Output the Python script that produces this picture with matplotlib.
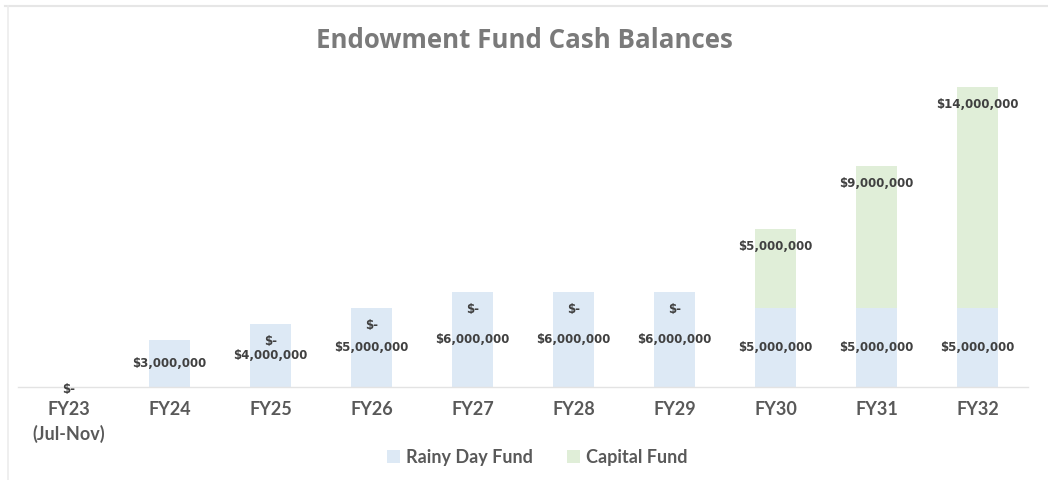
import matplotlib
matplotlib.use("Agg")
import matplotlib.pyplot as plt
from matplotlib.lines import Line2D
from matplotlib.patches import Patch
import numpy as np

categories = ["FY23\n(Jul-Nov)", "FY24", "FY25", "FY26", "FY27", "FY28", "FY29", "FY30", "FY31", "FY32"]
rainy_day = [0, 3000000, 4000000, 5000000, 6000000, 6000000, 6000000, 5000000, 5000000, 5000000]
capital = [0, 0, 0, 0, 0, 0, 0, 5000000, 9000000, 14000000]
series_names = ["Rainy Day Fund", "Capital Fund"]
title = "Endowment Fund Cash Balances"

rainy_color = "#dde9f5"
capital_color = "#e0eed8"
label_color = "#404040"
tick_color = "#595959"

def fmt(v):
    return "$-" if v == 0 else "${:,.0f}".format(v)

W, H = 1048, 480
fig = plt.figure(figsize=(W / 100, H / 100), dpi=100)
ax = fig.add_axes([18 / W, (H - 387) / H, (1028 - 18) / W, (387 - 71) / H])

x = np.arange(len(categories))
width = 0.4
ax.bar(x, rainy_day, width, color=rainy_color, label=series_names[0], zorder=2)
ax.bar(x, capital, width, bottom=rainy_day, color=capital_color, label=series_names[1], zorder=2)

ax.set_xlim(-0.5, len(categories) - 0.5)
ax.set_ylim(0, 20000000)
ax.set_yticks([])
for s in ["top", "right", "left"]:
    ax.spines[s].set_visible(False)
ax.spines["bottom"].set_color("#e3e3e3")
ax.spines["bottom"].set_linewidth(1.0)
ax.set_xticks(x)
ax.set_xticklabels(categories, fontsize=13, color=tick_color, family="Lato", fontweight="bold",
                   linespacing=1.45)
ax.tick_params(axis="x", length=0, pad=10)

lab_kw = dict(ha="center", va="center", fontsize=8.5, color=label_color, fontweight="bold",
              family="DejaVu Sans", zorder=3)
for i in range(len(categories)):
    r = rainy_day[i]
    c = capital[i]
    total = r + c
    if total == 0:
        ax.annotate(fmt(c), (x[i], 0), xytext=(0, -2), textcoords="offset points", **lab_kw)
        continue
    ax.text(x[i], r / 2, fmt(r), **lab_kw)
    if c == 0 and total < 3500000:
        continue  # hidden in the reference (would overlap the rainy-day label)
    ax.annotate(fmt(c), (x[i], total), xytext=(0, -12.5), textcoords="offset points", **lab_kw)

fig.text(0.5, (H - 41) / H, title, ha="center", va="center", fontsize=18.6, fontweight="bold",
         color="#7a7a7a", family="Open Sans")

handles = [Patch(facecolor=rainy_color, edgecolor="none"), Patch(facecolor=capital_color, edgecolor="none")]
leg = fig.legend(handles, series_names, loc="center", bbox_to_anchor=(537 / W, (H - 457) / H), ncol=2,
                 frameon=False, prop={"family": "Lato", "weight": "bold", "size": 13},
                 handlelength=0.75, handleheight=0.75, handletextpad=0.3, columnspacing=1.9)
for t in leg.get_texts():
    t.set_color(tick_color)

fig.add_artist(Line2D([5 / W, 1], [(H - 6) / H, (H - 6) / H], color="#e6e6e6", lw=1.5, transform=fig.transFigure))
fig.add_artist(Line2D([8 / W, 8 / W], [0, (H - 6) / H], color="#ececec", lw=1.2, transform=fig.transFigure))

fig.savefig("out.png", dpi=100, facecolor="white")
